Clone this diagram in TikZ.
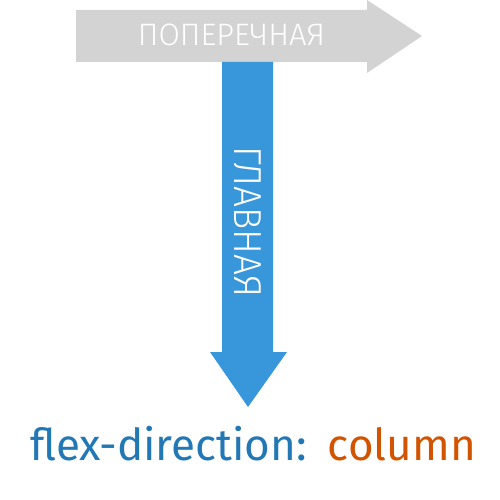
\documentclass[tikz,border=0pt]{standalone}
\usepackage{fontspec}
\newfontfamily\thinfont{Fira Sans Light}
\newfontfamily\thinfontb[FakeStretch=0.95]{Fira Sans Light}
\newfontfamily\codefont{Fira Sans}
\definecolor{grayarrow}{HTML}{D3D3D3}
\definecolor{bluearrow}{HTML}{3797DA}
\definecolor{codeblue}{HTML}{2277B5}
\definecolor{codeorange}{HTML}{D35400}
\begin{document}
\begin{tikzpicture}[x=1pt,y=-1pt,
  arrowlabel/.style={text=white,inner sep=0pt},
  codelabel/.style={inner sep=0pt,anchor=base west,font=\codefont\fontsize{44}{48}\selectfont}]
\useasboundingbox (0,0) rectangle (500,500);
\fill[grayarrow] (76,10) -- (367,10) -- (367,0) -- (422,36) -- (367,73) -- (367,62) -- (76,62) -- cycle;
\fill[bluearrow] (222,62) -- (273,62) -- (273,352) -- (287,352) -- (248,407) -- (210,352) -- (222,352) -- cycle;
\node[arrowlabel,font=\thinfont\fontsize{31}{34}\selectfont] (cross) at (231.5,35) {ПОПЕРЕЧНАЯ};
\node[arrowlabel,font=\thinfontb\fontsize{39}{42}\selectfont,rotate=-90] (main) at (248,222) {ГЛАВНАЯ};
\node[codelabel,text=codeblue] (prop) at (30,460) {flex-direction:};
\node[codelabel,text=codeorange,anchor=base east] (val) at (476,460) {column};
\end{tikzpicture}
\end{document}
